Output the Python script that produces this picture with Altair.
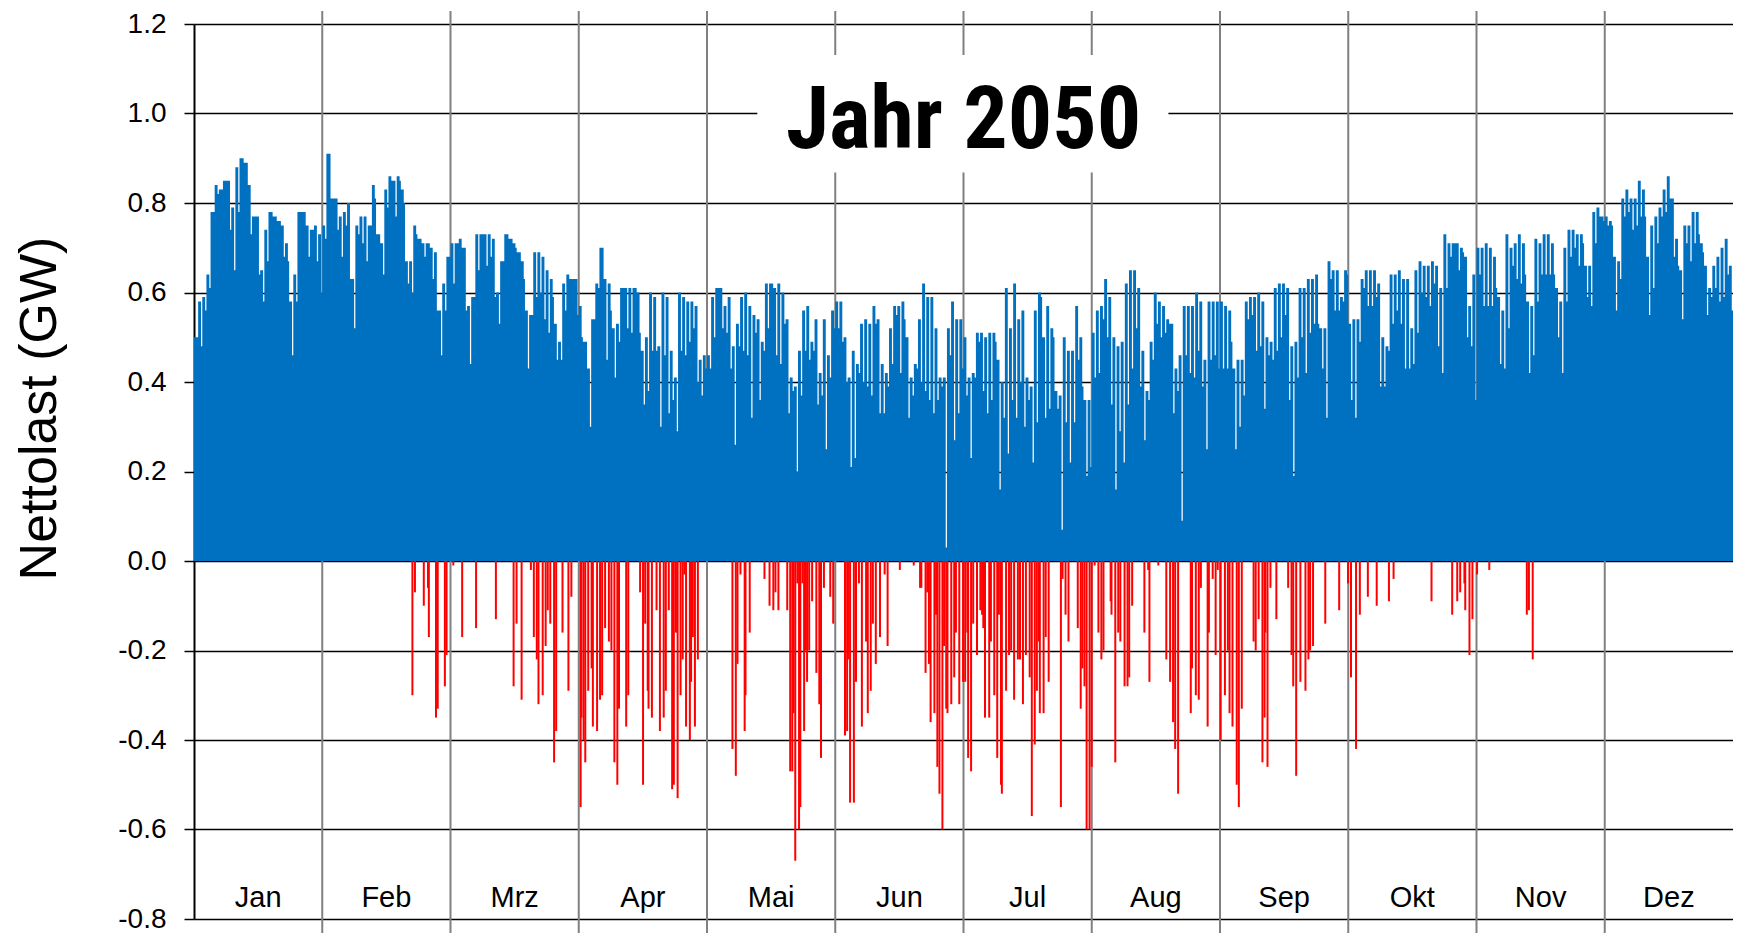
import altair as alt
import pandas as pd

months = ["Jan", "Feb", "Mrz", "Apr", "Mai", "Jun", "Jul", "Aug", "Sep", "Okt", "Nov", "Dez"]

# Upper envelope of the positive net load (GW): per sample the peak and the short dip
peak_jan_feb = [0.50,0.58,0.59,0.64,0.78,0.84,0.83,0.85,0.85,0.79,0.88,0.90,0.89,0.84,0.77,0.77,0.65,0.74,0.78,0.77,0.76,0.75,0.71,0.58,0.64,0.78,0.78,0.75,0.74,0.75,0.73,0.75,0.91,0.81,0.81,0.77,0.78,0.80,0.63,0.75,0.77,0.77,0.75,0.84,0.73,0.71,0.83,0.86,0.85,0.86,0.83,0.67,0.67,0.75,0.72,0.71,0.71,0.70,0.69,0.56,0.62,0.68]
dip_jan_feb = [0.50,0.48,0.56,0.61,0.78,0.82,0.83,0.85,0.74,0.65,0.78,0.90,0.89,0.73,0.77,0.64,0.58,0.67,0.78,0.77,0.76,0.68,0.67,0.46,0.58,0.78,0.78,0.68,0.74,0.67,0.60,0.72,0.91,0.81,0.74,0.68,0.75,0.63,0.52,0.73,0.71,0.67,0.75,0.81,0.73,0.64,0.79,0.85,0.77,0.85,0.80,0.62,0.60,0.73,0.72,0.68,0.71,0.63,0.56,0.46,0.56,0.68]
peak_mar_apr = [0.71,0.71,0.72,0.70,0.57,0.59,0.73,0.73,0.73,0.73,0.72,0.60,0.67,0.73,0.72,0.71,0.69,0.67,0.56,0.55,0.69,0.69,0.68,0.65,0.63,0.53,0.49,0.62,0.64,0.63,0.63,0.57,0.49,0.43,0.54,0.62,0.70,0.63,0.62,0.52,0.53,0.61,0.61,0.61,0.61,0.60,0.47,0.50,0.60,0.59,0.48,0.60,0.59,0.47,0.41,0.60,0.59,0.58,0.58,0.57,0.45,0.46]
dip_mar_apr = [0.62,0.71,0.70,0.56,0.44,0.59,0.65,0.73,0.66,0.68,0.59,0.53,0.67,0.73,0.72,0.70,0.69,0.63,0.43,0.55,0.59,0.60,0.54,0.51,0.59,0.45,0.45,0.56,0.63,0.63,0.55,0.50,0.49,0.30,0.54,0.61,0.70,0.45,0.56,0.41,0.49,0.61,0.52,0.51,0.61,0.51,0.35,0.38,0.47,0.47,0.30,0.46,0.33,0.36,0.29,0.47,0.46,0.49,0.52,0.40,0.37,0.43]
peak_mai_jun = [0.46,0.59,0.61,0.61,0.57,0.59,0.48,0.53,0.59,0.60,0.57,0.55,0.54,0.49,0.62,0.62,0.61,0.62,0.60,0.54,0.41,0.39,0.47,0.56,0.57,0.49,0.54,0.42,0.54,0.46,0.56,0.58,0.58,0.50,0.41,0.47,0.44,0.53,0.54,0.53,0.57,0.54,0.44,0.42,0.52,0.57,0.57,0.58,0.50,0.41,0.44,0.54,0.62,0.59,0.59,0.52,0.41,0.41,0.52,0.58,0.54,0.54]
dip_mai_jun = [0.43,0.50,0.61,0.52,0.51,0.43,0.26,0.48,0.47,0.46,0.32,0.51,0.36,0.47,0.52,0.62,0.46,0.44,0.53,0.33,0.38,0.20,0.37,0.47,0.45,0.47,0.35,0.37,0.25,0.41,0.52,0.52,0.49,0.40,0.21,0.23,0.42,0.40,0.39,0.37,0.53,0.33,0.33,0.39,0.44,0.55,0.42,0.54,0.32,0.37,0.43,0.40,0.38,0.36,0.33,0.36,0.39,0.03,0.46,0.27,0.33,0.43]
peak_jul_aug = [0.50,0.41,0.42,0.51,0.51,0.50,0.51,0.51,0.45,0.40,0.61,0.52,0.62,0.54,0.56,0.41,0.39,0.56,0.60,0.50,0.57,0.52,0.38,0.37,0.50,0.47,0.47,0.57,0.50,0.36,0.36,0.51,0.56,0.57,0.63,0.59,0.50,0.48,0.49,0.62,0.65,0.65,0.61,0.47,0.38,0.49,0.60,0.58,0.57,0.54,0.53,0.43,0.46,0.57,0.57,0.57,0.60,0.58,0.45,0.58,0.58,0.58]
dip_jul_aug = [0.37,0.23,0.41,0.49,0.38,0.33,0.36,0.49,0.16,0.32,0.24,0.36,0.32,0.40,0.30,0.36,0.22,0.31,0.59,0.32,0.34,0.50,0.34,0.07,0.31,0.22,0.31,0.45,0.39,0.19,0.21,0.41,0.42,0.54,0.50,0.35,0.16,0.29,0.22,0.35,0.43,0.52,0.39,0.27,0.36,0.45,0.53,0.50,0.51,0.53,0.33,0.38,0.09,0.46,0.42,0.41,0.47,0.39,0.25,0.45,0.46,0.43]
peak_sep_okt = [0.58,0.57,0.56,0.43,0.45,0.45,0.58,0.59,0.59,0.60,0.58,0.50,0.49,0.61,0.62,0.62,0.61,0.48,0.49,0.61,0.61,0.63,0.63,0.64,0.52,0.52,0.67,0.65,0.65,0.59,0.65,0.53,0.54,0.54,0.63,0.65,0.65,0.65,0.62,0.50,0.48,0.64,0.64,0.65,0.63,0.63,0.52,0.65,0.67,0.66,0.66,0.67,0.66,0.61,0.73,0.71,0.71,0.71,0.70,0.68,0.57,0.64]
dip_sep_okt = [0.43,0.43,0.49,0.25,0.30,0.37,0.54,0.55,0.47,0.48,0.34,0.46,0.45,0.47,0.50,0.55,0.36,0.19,0.41,0.50,0.42,0.51,0.53,0.53,0.43,0.32,0.63,0.56,0.56,0.58,0.64,0.36,0.32,0.49,0.61,0.57,0.57,0.59,0.39,0.39,0.47,0.53,0.56,0.53,0.43,0.43,0.44,0.51,0.60,0.59,0.57,0.62,0.48,0.42,0.61,0.68,0.71,0.65,0.69,0.50,0.48,0.36]
peak_nov_dez = [0.70,0.70,0.71,0.70,0.68,0.59,0.56,0.73,0.70,0.71,0.73,0.71,0.58,0.57,0.72,0.71,0.73,0.73,0.71,0.61,0.58,0.70,0.74,0.74,0.73,0.73,0.66,0.66,0.78,0.79,0.77,0.77,0.76,0.68,0.67,0.81,0.83,0.81,0.81,0.85,0.83,0.68,0.75,0.77,0.79,0.83,0.86,0.81,0.72,0.65,0.75,0.75,0.78,0.78,0.71,0.66,0.61,0.66,0.68,0.70,0.72,0.66]
dip_nov_dez = [0.64,0.57,0.57,0.57,0.61,0.44,0.43,0.52,0.66,0.63,0.62,0.64,0.42,0.46,0.58,0.64,0.64,0.64,0.64,0.50,0.42,0.58,0.68,0.70,0.66,0.71,0.59,0.57,0.71,0.77,0.76,0.75,0.75,0.56,0.63,0.77,0.78,0.74,0.75,0.77,0.77,0.55,0.61,0.71,0.77,0.78,0.81,0.68,0.66,0.54,0.71,0.67,0.71,0.73,0.69,0.55,0.59,0.61,0.58,0.59,0.64,0.56]

# Negative net load (GW) at day of year
neg_day_spring = [51.8,52.4,54.5,55.5,55.7,57.4,57.8,59.5,59.9,61.5,63.6,66.9,71.6,75.8,76.5,77.7,79.9,80.6,81.3,81.7,82.7,83.4,83.9,84.5,85.4,85.9,87.4,88.8,89.5,91.7,91.9,92.4,92.8,93.5,94.3,94.6,95.6,96.3,96.8,97.5,98.4,99.0,99.7,100.4,100.8,102.5,103.0,105.8,106.5,107.0,107.6,107.8,108.6,109.7,110.5]
neg_gw_spring = [-0.30,-0.07,-0.10,-0.06,-0.17,-0.35,-0.33,-0.28,-0.21,-0.01,-0.17,-0.15,-0.13,-0.28,-0.14,-0.31,-0.02,-0.17,-0.22,-0.32,-0.30,-0.19,-0.11,-0.14,-0.45,-0.38,-0.16,-0.29,-0.08,-0.55,-0.35,-0.40,-0.45,-0.29,-0.24,-0.37,-0.38,-0.31,-0.30,-0.15,-0.18,-0.20,-0.45,-0.50,-0.33,-0.37,-0.30,-0.07,-0.50,-0.14,-0.29,-0.33,-0.35,-0.11,-0.38]
neg_day_may = [111.4,111.9,112.6,113.4,113.8,114.3,114.7,115.4,115.9,116.3,116.7,117.6,117.9,118.3,118.8,119.5,127.7,128.5,128.9,129.6,130.6,130.8,131.8,135.3,136.5,137.4,137.9,138.6,140.7,141.4,141.9,142.2,142.6,143.1,143.5,143.8,144.3,144.7,145.0,145.4,145.9,146.6,147.6,148.3,148.7,149.4,150.9,151.6,154.4,154.9,155.1,155.6,156.5,157.0,157.7,158.4,159.4,159.8,160.5,161.0,161.7,162.7,163.8,164.5,167.4,170.7,172.2]
neg_gw_may = [-0.35,-0.29,-0.11,-0.51,-0.50,-0.16,-0.53,-0.30,-0.22,-0.03,-0.37,-0.40,-0.27,-0.17,-0.37,-0.22,-0.42,-0.48,-0.23,-0.03,-0.38,-0.30,-0.16,-0.04,-0.10,-0.11,-0.07,-0.11,-0.11,-0.47,-0.47,-0.34,-0.67,-0.05,-0.60,-0.55,-0.05,-0.38,-0.20,-0.27,-0.20,-0.09,-0.25,-0.32,-0.44,-0.06,-0.08,-0.14,-0.39,-0.38,-0.22,-0.54,-0.54,-0.27,-0.05,-0.37,-0.18,-0.34,-0.29,-0.14,-0.23,-0.17,-0.03,-0.19,-0.02,-0.01,-0.06]
neg_day_summer = [172.5,173.5,173.9,174.3,174.7,175.6,176.0,176.3,176.8,177.5,177.9,178.4,178.7,179.6,180.3,180.7,181.5,182.4,182.9,183.4,183.6,184.3,184.8,185.7,186.5,186.9,187.2,187.6,188.6,189.0,189.8,190.5,190.9,191.4,191.6,192.6,193.3,193.8,194.5,195.4,195.9,196.6,197.3,198.2,198.7,199.4,199.9,200.4,200.6,201.5,202.0,202.7,205.6,206.0,206.7,207.4,209.6,210.3,210.7,211.2,211.7,212.4,212.9,213.6,214.5,215.2,215.7,217.4,217.6,218.5,219.2,219.7,220.7,221.4,221.8,222.5,225.4,226.3,226.6,228.7,230.6,231.5,232.2,232.7,233.4]
neg_gw_summer = [-0.06,-0.25,-0.07,-0.23,-0.36,-0.34,-0.12,-0.46,-0.52,-0.60,-0.19,-0.33,-0.34,-0.32,-0.26,-0.16,-0.32,-0.27,-0.27,-0.16,-0.44,-0.47,-0.14,-0.21,-0.11,-0.12,-0.15,-0.35,-0.35,-0.18,-0.30,-0.44,-0.12,-0.50,-0.52,-0.29,-0.21,-0.20,-0.31,-0.22,-0.22,-0.32,-0.21,-0.26,-0.57,-0.41,-0.29,-0.18,-0.34,-0.34,-0.17,-0.27,-0.55,-0.04,-0.12,-0.18,-0.15,-0.33,-0.24,-0.28,-0.60,-0.60,-0.46,-0.01,-0.16,-0.22,-0.20,-0.09,-0.12,-0.45,-0.16,-0.18,-0.28,-0.28,-0.26,-0.10,-0.16,-0.02,-0.27,-0.01,-0.22,-0.27,-0.36,-0.42,-0.52]
neg_day_autumn = [236.4,236.7,237.6,238.3,238.8,240.4,240.7,241.6,242.3,242.8,243.5,244.5,245.2,245.6,246.3,247.3,247.8,248.5,251.3,251.8,252.5,253.4,253.9,254.1,254.6,255.3,256.7,259.5,260.3,260.7,261.4,262.4,263.6,264.3,264.7,265.4,268.3,271.6,273.7,274.4,275.6,276.5,278.4,280.5,283.4,284.5,293.5,298.4,299.6,300.3,301.3,301.5,302.5,303.2,304.3,307.2,316.1,316.6,317.5]
neg_gw_autumn = [-0.34,-0.24,-0.30,-0.31,-0.06,-0.37,-0.16,-0.04,-0.21,-0.02,-0.40,-0.30,-0.20,-0.34,-0.37,-0.50,-0.55,-0.33,-0.18,-0.20,-0.13,-0.45,-0.35,-0.16,-0.46,-0.06,-0.13,-0.06,-0.21,-0.28,-0.48,-0.27,-0.29,-0.22,-0.20,-0.19,-0.14,-0.11,-0.05,-0.26,-0.42,-0.12,-0.08,-0.10,-0.09,-0.04,-0.09,-0.12,-0.09,-0.07,-0.05,-0.11,-0.21,-0.13,-0.03,-0.02,-0.12,-0.11,-0.22]

y_ticks = [-0.8, -0.6, -0.4, -0.2, 0.0, 0.2, 0.4, 0.6, 0.8, 1.0, 1.2]
title_text = "Jahr 2050"

# ---------------- tables ----------------
peaks = peak_jan_feb + peak_mar_apr + peak_mai_jun + peak_jul_aug + peak_sep_okt + peak_nov_dez
dips = dip_jan_feb + dip_mar_apr + dip_mai_jun + dip_jul_aug + dip_sep_okt + dip_nov_dez
n = min(len(peaks), len(dips))
step = 365.0 / n
rows = []
for i in range(n):
    rows.append({"tag": i * step, "gw": peaks[i], "base": 0.0})
    rows.append({"tag": (i + 0.7) * step, "gw": dips[i], "base": 0.0})
rows.append({"tag": 365.0, "gw": dips[n - 1], "base": 0.0})
pos_df = pd.DataFrame(rows)

neg_days = neg_day_spring + neg_day_may + neg_day_summer + neg_day_autumn
neg_vals = neg_gw_spring + neg_gw_may + neg_gw_summer + neg_gw_autumn
neg_df = pd.DataFrame({"tag": neg_days, "gw": neg_vals, "base": [0.0] * len(neg_days)})

month_len = 365.0 / 12
bounds_df = pd.DataFrame({"tag": [month_len * i for i in range(1, 12)]})
label_df = pd.DataFrame({
    "tag": [month_len * (i + 0.5) for i in range(12)],
    "name": months,
    "gw": [-0.774] * 12,
})
box_df = pd.DataFrame({"tag": [133.6], "tag2": [231.1], "gw": [1.131], "gw2": [0.868]})
title_df = pd.DataFrame({"tag": [182.5], "gw": [0.922], "txt": [title_text]})

W, H = 1539, 895
FONT = "Liberation Sans, Arial, Helvetica, sans-serif"
TFONT = "Liberation Sans Narrow, Arial Narrow, Noto Sans Condensed, Roboto Condensed, Lato, sans-serif"

xs = alt.Scale(domain=[0, 365], nice=False, zero=False)
ys = alt.Scale(domain=[-0.8, 1.2], nice=False, zero=False)
X = alt.X("tag:Q", scale=xs, axis=None)

y_axis = alt.Axis(
    values=y_ticks,
    title="Nettolast (GW)",
    grid=True,
    gridColor="#000000",
    gridWidth=1.5,
    gridOpacity=1,
    domainColor="#000000",
    domainWidth=2,
    tickColor="#000000",
    tickSize=10,
    tickWidth=1.5,
    labelFont=FONT,
    labelFontSize=28,
    labelColor="#000000",
    labelPadding=18,
    labelExpr="(datum.value < 0 ? '-' : '') + format(abs(datum.value), '.1f')",
    titleFont=FONT,
    titleFontSize=52,
    titleFontWeight="normal",
    titleColor="#000000",
    titleAngle=270,
    titleAlign="center",
    titleBaseline="alphabetic",
    titleX=-139,
    titleY=384,
)
Y = alt.Y("gw:Q", scale=ys, axis=y_axis, title="Nettolast (GW)")

vgrid = alt.Chart(bounds_df).mark_rule(color="#808080", strokeWidth=2).encode(
    x=X,
    y=alt.value(-13),
    y2=alt.value(H + 14),
)

area = alt.Chart(pos_df).mark_area(interpolate="step-after", color="#0070C0").encode(
    x=X, y=Y, y2="base:Q",
)

neg = alt.Chart(neg_df).mark_rule(color="#FF0000", strokeWidth=2).encode(
    x=X, y=Y, y2="base:Q",
)

box = alt.Chart(box_df).mark_rect(color="#FFFFFF").encode(
    x=X, x2="tag2:Q", y=Y, y2="gw2:Q",
)

title = alt.Chart(title_df).mark_text(
    font=TFONT, fontSize=88, fontWeight="bold",
    align="center", baseline="alphabetic", color="#000000",
).encode(x=X, y=Y, text="txt:N")

mlabels = alt.Chart(label_df).mark_text(
    font=FONT, fontSize=29, align="center", baseline="alphabetic", color="#000000",
).encode(x=X, y=Y, text="name:N")

chart = alt.layer(vgrid, area, neg, box, title, mlabels).properties(
    width=W,
    height=H,
    autosize=alt.AutoSizeParams(type="none"),
    padding={"left": 186, "top": 16, "right": 0, "bottom": 14},
).configure_view(stroke=None)

chart.save("out.html", embed_options={"renderer": "svg", "actions": False})
